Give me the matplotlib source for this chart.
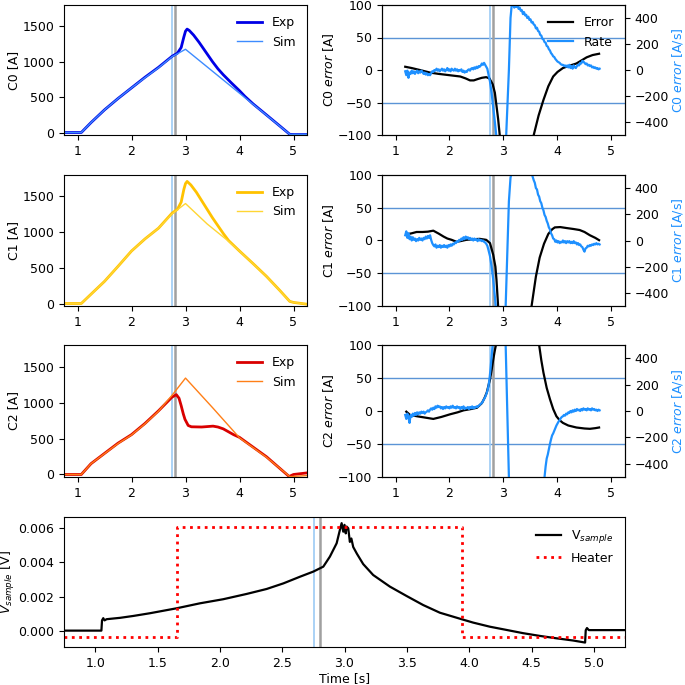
import numpy as np
import matplotlib
matplotlib.use("Agg")
import matplotlib.pyplot as plt

plt.rcParams["font.size"] = 9

# marker times (vertical lines)
t_quench = 2.755
t_detect = 2.80

# --- current traces (time [s], current [A]) ---
c0_exp_t = [0.75, 1.07, 1.25, 1.5, 1.75, 2.0, 2.25, 2.5, 2.75, 2.85, 2.92, 2.97, 3.0, 3.03, 3.07, 3.15, 3.25, 3.4, 3.5, 3.6, 3.7, 3.85, 4.0, 4.1, 4.25, 4.5, 4.75, 4.93, 5.0, 5.25]
c0_exp = [0, 0, 140, 320, 480, 630, 780, 920, 1075, 1120, 1200, 1350, 1430, 1460, 1440, 1375, 1275, 1110, 1000, 900, 815, 700, 590, 510, 405, 248, 90, -25, -28, -28]
c0_sim_t = [0.75, 1.07, 1.25, 1.5, 1.75, 2.0, 2.25, 2.5, 2.75, 3.0, 3.5, 4.0, 4.5, 4.93, 5.25]
c0_sim = [0, 0, 140, 320, 480, 630, 775, 915, 1070, 1175, 865, 555, 245, -25, -25]

c1_exp_t = [0.75, 1.07, 1.25, 1.5, 1.75, 2.0, 2.25, 2.5, 2.75, 2.85, 2.92, 2.97, 3.0, 3.03, 3.1, 3.2, 3.3, 3.4, 3.5, 3.6, 3.7, 3.8, 4.0, 4.25, 4.5, 4.75, 4.93, 5.0, 5.25]
c1_exp = [0, 0, 130, 310, 520, 735, 905, 1055, 1265, 1320, 1420, 1600, 1680, 1710, 1660, 1560, 1440, 1320, 1200, 1090, 980, 880, 735, 560, 380, 180, 30, 15, -10]
c1_sim_t = [0.75, 1.07, 1.25, 1.5, 1.75, 2.0, 2.25, 2.5, 2.75, 3.0, 3.4, 3.8, 4.0, 4.5, 4.93, 5.0, 5.25]
c1_sim = [0, 0, 130, 310, 520, 735, 905, 1055, 1255, 1400, 1115, 870, 735, 380, 30, 15, -10]

c2_exp_t = [0.75, 1.07, 1.25, 1.5, 1.75, 2.0, 2.25, 2.5, 2.75, 2.83, 2.88, 2.92, 2.96, 2.99, 3.05, 3.11, 3.3, 3.51, 3.6, 3.7, 3.89, 4.0, 4.5, 4.92, 5.0, 5.25]
c2_exp = [0, 0, 150, 293, 435, 554, 710, 885, 1075, 1110, 1060, 956, 840, 767, 681, 663, 660, 672, 660, 634, 554, 516, 246, -28, 0, 22]
c2_sim_t = [0.75, 1.07, 1.25, 1.5, 1.75, 2.0, 2.25, 2.5, 2.75, 3.0, 3.5, 4.0, 4.5, 4.93, 5.25]
c2_sim = [0, 0, 150, 290, 430, 550, 705, 880, 1100, 1340, 930, 510, 240, -30, -15]

# --- error [A] ---
c0_err_t = [1.18, 1.3, 1.45, 1.64, 1.8, 1.95, 2.1, 2.2, 2.3, 2.38, 2.45, 2.52, 2.6, 2.68, 2.74, 2.8, 2.84, 2.87, 2.9, 2.93, 2.96, 3.0, 3.3, 3.5, 3.56, 3.65, 3.74, 3.83, 3.92, 4.0, 4.1, 4.2, 4.35, 4.45, 4.54, 4.65, 4.77]
c0_err = [5, 3, 0, -4, -6, -7.5, -9, -10, -13, -16, -16, -14, -12, -11, -13, -22, -35, -55, -75, -100, -150, -250, -300, -160, -100, -70, -46, -25, -10, -3, 3, 6, 10, 15, 19.5, 23, 25]
c1_err_t = [1.24, 1.3, 1.39, 1.5, 1.6, 1.7, 1.8, 1.89, 1.96, 2.04, 2.13, 2.2, 2.31, 2.45, 2.56, 2.68, 2.75, 2.81, 2.85, 2.87, 2.9, 3.0, 3.3, 3.45, 3.52, 3.6, 3.67, 3.75, 3.83, 3.9, 3.95, 4.05, 4.17, 4.3, 4.41, 4.5, 4.6, 4.7, 4.77]
c1_err = [10, 11, 13, 13, 13.5, 15, 10.5, 6, 3, 1, -2, -1, 1, 2, 2.5, 1, -4, -22, -40, -60, -100, -300, -400, -180, -100, -55, -26, -5, 10, 17, 20, 20.5, 19, 17.5, 16, 13, 8, 4, 0.5]
c2_err_t = [1.2, 1.27, 1.4, 1.55, 1.7, 1.85, 2.01, 2.15, 2.26, 2.4, 2.51, 2.6, 2.65, 2.69, 2.72, 2.75, 2.78, 2.81, 2.84, 2.86, 2.9, 3.0, 3.3, 3.55, 3.66, 3.7, 3.74, 3.8, 3.86, 3.92, 3.98, 4.04, 4.1, 4.2, 4.35, 4.5, 4.6, 4.7, 4.77]
c2_err = [-1, -6, -8, -10, -12, -9, -5, -2, 1, 3, 5, 12, 20, 28, 38, 48, 62, 78, 92, 100, 150, 300, 350, 180, 100, 77, 58, 35, 18, 3, -8, -14, -18, -22, -25, -26.5, -27, -26, -25]

# --- error rate [A/s] ---
c0_rate_t = [1.18, 1.2, 1.22, 1.24, 1.26, 1.28, 1.3, 1.32, 1.34, 1.36, 1.38, 1.4, 1.42, 1.44, 1.46, 1.48, 1.5, 1.52, 1.54, 1.56, 1.58, 1.6, 1.62, 1.64, 1.66, 1.68, 1.7, 1.72, 1.74, 1.76, 1.78, 1.8, 1.82, 1.84, 1.86, 1.88, 1.9, 1.92, 1.94, 1.96, 1.98, 2.0, 2.02, 2.04, 2.06, 2.08, 2.1, 2.12, 2.14, 2.16, 2.18, 2.2, 2.22, 2.24, 2.26, 2.28, 2.3, 2.32, 2.34, 2.36, 2.38, 2.4, 2.42, 2.44, 2.46, 2.48, 2.5, 2.52, 2.54, 2.56, 2.58, 2.6, 2.62, 2.64, 2.66, 2.68, 2.7, 2.72, 2.75, 2.78, 2.81, 2.84, 2.87, 2.95, 3.0, 3.05, 3.1, 3.13, 3.15, 3.18, 3.2, 3.22, 3.24, 3.26, 3.28, 3.3, 3.32, 3.34, 3.36, 3.38, 3.4, 3.42, 3.44, 3.46, 3.48, 3.5, 3.52, 3.54, 3.56, 3.58, 3.6, 3.62, 3.64, 3.66, 3.68, 3.7, 3.72, 3.74, 3.76, 3.78, 3.8, 3.82, 3.84, 3.86, 3.88, 3.9, 3.92, 3.94, 3.96, 3.98, 4.0, 4.02, 4.04, 4.06, 4.08, 4.1, 4.12, 4.14, 4.16, 4.18, 4.2, 4.22, 4.24, 4.26, 4.28, 4.3, 4.32, 4.34, 4.36, 4.38, 4.4, 4.42, 4.44, 4.46, 4.48, 4.5, 4.52, 4.54, 4.56, 4.58, 4.6, 4.62, 4.64, 4.66, 4.68, 4.7, 4.72, 4.74, 4.76, 4.78]
c0_rate = [-10, -40, -5, -60, -20, -30, -5, -25, -10, -30, -15, -5, -25, -10, -20, -5, -15, -30, -20, -35, -25, -40, -30, -40, -25, -10, -15, 0, -5, 10, -5, 5, -10, 0, 10, -5, 5, -10, 0, 15, -5, 5, -10, 10, 0, -5, 10, -5, 5, -10, 0, -5, 5, -15, -5, -20, -10, -15, 0, 5, -5, 10, 15, 5, 20, 10, 25, 15, 30, 25, 35, 50, 40, 55, 40, 25, 10, -30, -90, -180, -290, -400, -520, -900, -700, -500, 0, 400, 490, 500, 480, 495, 485, 500, 470, 480, 455, 460, 430, 445, 420, 425, 400, 410, 385, 390, 365, 370, 350, 345, 320, 325, 300, 295, 270, 265, 240, 235, 215, 210, 185, 180, 160, 150, 130, 120, 105, 100, 85, 75, 65, 60, 55, 45, 40, 40, 30, 35, 25, 35, 20, 40, 15, 30, 10, 35, 20, 15, 30, 40, 35, 55, 50, 70, 65, 55, 45, 50, 35, 40, 30, 35, 20, 25, 15, 20, 10, 15, 5, 10]
c1_rate_t = [1.18, 1.2, 1.22, 1.24, 1.26, 1.28, 1.3, 1.32, 1.34, 1.36, 1.38, 1.4, 1.42, 1.44, 1.46, 1.48, 1.5, 1.52, 1.54, 1.56, 1.58, 1.6, 1.62, 1.64, 1.66, 1.68, 1.7, 1.72, 1.74, 1.76, 1.78, 1.8, 1.82, 1.84, 1.86, 1.88, 1.9, 1.92, 1.94, 1.96, 1.98, 2.0, 2.02, 2.04, 2.06, 2.08, 2.1, 2.12, 2.14, 2.16, 2.18, 2.2, 2.22, 2.24, 2.26, 2.28, 2.3, 2.32, 2.34, 2.36, 2.38, 2.4, 2.42, 2.44, 2.46, 2.48, 2.5, 2.52, 2.54, 2.56, 2.58, 2.6, 2.62, 2.64, 2.66, 2.68, 2.7, 2.72, 2.75, 2.78, 2.81, 2.84, 2.86, 2.95, 3.0, 3.04, 3.07, 3.1, 3.13, 3.2, 3.35, 3.5, 3.53, 3.56, 3.58, 3.6, 3.62, 3.64, 3.66, 3.68, 3.7, 3.72, 3.74, 3.76, 3.78, 3.8, 3.82, 3.84, 3.86, 3.88, 3.9, 3.92, 3.94, 3.96, 3.98, 4.0, 4.02, 4.04, 4.06, 4.08, 4.1, 4.12, 4.14, 4.16, 4.18, 4.2, 4.22, 4.24, 4.26, 4.28, 4.3, 4.32, 4.34, 4.36, 4.38, 4.4, 4.42, 4.44, 4.46, 4.48, 4.5, 4.52, 4.54, 4.56, 4.58, 4.6, 4.62, 4.64, 4.66, 4.68, 4.7, 4.72, 4.74, 4.76, 4.78]
c1_rate = [40, 70, 20, 55, 10, 30, 0, 25, 5, 15, -5, 10, 0, 20, 5, 15, 0, 20, 10, 30, 15, 35, 20, 40, 5, -20, -35, -45, -30, -55, -40, -50, -35, -55, -40, -50, -35, -50, -40, -55, -35, -45, -30, -40, -25, -30, -15, -20, -5, -10, 5, 0, 15, 5, 25, 10, 30, 15, 25, 10, 20, 5, 15, 0, 15, 5, 10, -5, 10, 0, 5, -5, 0, -10, -15, -25, -40, -70, -120, -200, -300, -430, -520, -900, -700, -500, -100, 300, 480, 600, 650, 580, 500, 460, 440, 400, 390, 350, 335, 300, 285, 250, 230, 195, 180, 150, 130, 100, 85, 55, 40, 15, 10, -10, 0, -15, -5, -20, -10, -15, 0, -15, -5, -20, -5, -15, -5, -20, -10, -20, -5, -20, -15, -30, -20, -35, -30, -45, -50, -70, -85, -60, -55, -40, -45, -35, -40, -30, -35, -25, -30, -20, -30, -25, -30]
c2_rate_t = [1.18, 1.2, 1.22, 1.24, 1.26, 1.28, 1.3, 1.32, 1.34, 1.36, 1.38, 1.4, 1.42, 1.44, 1.46, 1.48, 1.5, 1.52, 1.54, 1.56, 1.58, 1.6, 1.62, 1.64, 1.66, 1.68, 1.7, 1.72, 1.74, 1.76, 1.78, 1.8, 1.82, 1.84, 1.86, 1.88, 1.9, 1.92, 1.94, 1.96, 1.98, 2.0, 2.02, 2.04, 2.06, 2.08, 2.1, 2.12, 2.14, 2.16, 2.18, 2.2, 2.22, 2.24, 2.26, 2.28, 2.3, 2.32, 2.34, 2.36, 2.38, 2.4, 2.42, 2.44, 2.46, 2.48, 2.5, 2.52, 2.54, 2.56, 2.58, 2.6, 2.62, 2.64, 2.66, 2.68, 2.7, 2.72, 2.74, 2.76, 2.78, 2.8, 2.9, 3.0, 3.04, 3.07, 3.1, 3.2, 3.6, 3.76, 3.78, 3.8, 3.82, 3.84, 3.86, 3.88, 3.9, 3.92, 3.94, 3.96, 3.98, 4.0, 4.02, 4.04, 4.06, 4.08, 4.1, 4.12, 4.14, 4.16, 4.18, 4.2, 4.22, 4.24, 4.26, 4.28, 4.3, 4.32, 4.34, 4.36, 4.38, 4.4, 4.42, 4.44, 4.46, 4.48, 4.5, 4.52, 4.54, 4.56, 4.58, 4.6, 4.62, 4.64, 4.66, 4.68, 4.7, 4.72, 4.74, 4.76, 4.78]
c2_rate = [-30, -60, -20, -50, -90, -30, -45, -20, -35, -15, -30, -10, -25, -10, -20, -5, -15, -5, -20, -10, -5, 5, -5, 10, 20, 10, 25, 15, 35, 25, 40, 30, 35, 20, 30, 15, 30, 20, 35, 25, 30, 20, 35, 25, 40, 25, 30, 20, 35, 25, 30, 15, 30, 20, 35, 15, 25, 20, 30, 15, 30, 20, 35, 20, 30, 25, 35, 30, 40, 45, 55, 60, 75, 90, 105, 125, 150, 185, 240, 320, 420, 510, 900, 700, 500, 0, -500, -900, -900, -500, -420, -360, -330, -290, -250, -215, -185, -170, -150, -130, -110, -95, -80, -70, -55, -45, -40, -30, -35, -20, -25, -10, -15, 0, -10, 5, -5, 10, 0, 15, 5, 10, 0, 15, 5, 20, 10, 15, 5, 20, 10, 15, 5, 20, 10, 15, 5, 10, 0, 10, 5]

# --- sample voltage and heater ---
v_t = [0.75, 1.05, 1.055, 1.065, 1.075, 1.092, 1.2, 1.306, 1.44, 1.654, 1.84, 2.027, 2.215, 2.375, 2.51, 2.643, 2.75, 2.83, 2.883, 2.937, 2.963, 2.977, 2.99, 3.0, 3.01, 3.017, 3.03, 3.043, 3.055, 3.07, 3.1, 3.15, 3.23, 3.364, 3.498, 3.631, 3.765, 3.939, 4.032, 4.166, 4.30, 4.433, 4.567, 4.70, 4.834, 4.93, 4.935, 4.945, 4.96, 5.25]
v_sample = [0.0, 0.0, 0.0006, 0.00073, 0.0006, 0.00067, 0.00075, 0.00086, 0.00102, 0.00131, 0.0016, 0.00184, 0.00215, 0.00244, 0.00277, 0.00316, 0.00346, 0.00375, 0.00434, 0.00512, 0.0059, 0.0063, 0.0058, 0.0062, 0.0057, 0.0061, 0.0060, 0.0052, 0.0054, 0.0049, 0.0045, 0.0039, 0.00326, 0.00258, 0.00203, 0.0015, 0.00105, 0.00067, 0.00047, 0.00023, 0.00004, -0.00015, -0.00031, -0.00045, -0.00058, -0.0007, 0.00002, 0.00015, 0.00003, 0.00003]
heater_t = [0.75, 1.66, 3.94, 5.25]
heater_v = [-0.0004, 0.0061, -0.0004, -0.0004]

names = ["C0", "C1", "C2"]
exp_t = [c0_exp_t, c1_exp_t, c2_exp_t]
exp_i = [c0_exp, c1_exp, c2_exp]
sim_t = [c0_sim_t, c1_sim_t, c2_sim_t]
sim_i = [c0_sim, c1_sim, c2_sim]
err_t = [c0_err_t, c1_err_t, c2_err_t]
err = [c0_err, c1_err, c2_err]
rate_t = [c0_rate_t, c1_rate_t, c2_rate_t]
rate = [c0_rate, c1_rate, c2_rate]
exp_col = ["#0000e6", "#ffc200", "#d90000"]
sim_col = ["#3d8bff", "#ffd633", "#ff7f17"]

rate_col = "#1e90ff"
hline_col = "#5b94d6"
vq_col = "#9ccbf5"
vd_col = "#a0a0a0"

fig = plt.figure(figsize=(6.85, 6.85), dpi=100)

W = 685.0
def box(x0, y0, x1, y1):
    return [x0 / W, 1 - y1 / W, (x1 - x0) / W, (y1 - y0) / W]

rows = [(5, 135), (175, 306), (345, 477)]

for k in range(3):
    y0, y1 = rows[k]
    # current panel
    ax = fig.add_axes(box(64, y0, 307, y1))
    ax.axvline(t_quench, color=vq_col, lw=1.2)
    ax.axvline(t_detect, color=vd_col, lw=1.8)
    ax.plot(exp_t[k], exp_i[k], color=exp_col[k], lw=2, label="Exp")
    ax.plot(sim_t[k], sim_i[k], color=sim_col[k], lw=1, label="Sim")
    ax.set_xlim(0.75, 5.25)
    ax.set_ylim(-35, 1800)
    ax.set_xticks([1, 2, 3, 4, 5])
    ax.set_yticks([0, 500, 1000, 1500])
    ax.set_ylabel(names[k] + " [A]", labelpad=2)
    ax.legend(loc="upper right", frameon=False)

    # error panel
    ax2 = fig.add_axes(box(382, y0, 625, y1))
    ax2.axhline(50, color=hline_col, lw=1)
    ax2.axhline(-50, color=hline_col, lw=1)
    ax2.axvline(t_quench, color=vq_col, lw=1.2)
    ax2.axvline(t_detect, color=vd_col, lw=1.8)
    l_err, = ax2.plot(err_t[k], err[k], color="black", lw=1.6, label="Error")
    ax2.set_xlim(0.75, 5.25)
    ax2.set_ylim(-100, 100)
    ax2.set_xticks([1, 2, 3, 4, 5])
    ax2.set_yticks([-100, -50, 0, 50, 100])
    ax2.set_ylabel(names[k] + " $error$ [A]", labelpad=1)

    ax3 = ax2.twinx()
    l_rate, = ax3.plot(rate_t[k], rate[k], color=rate_col, lw=1.6, label="Rate")
    ax3.set_ylim(-500, 500)
    ax3.set_yticks([-400, -200, 0, 200, 400])
    ax3.set_ylabel(names[k] + " $error$ [A/s]", color=rate_col, labelpad=1)
    if k == 0:
        ax3.legend([l_err, l_rate], ["Error", "Rate"], loc="upper right", frameon=False)

# bottom panel
axb = fig.add_axes(box(64, 517, 625, 647))
axb.axvline(t_quench, color=vq_col, lw=1.2)
axb.axvline(t_detect, color=vd_col, lw=1.8)
axb.plot(v_t, v_sample, color="black", lw=1.6, label="V$_{sample}$")
axb.plot(heater_t, heater_v, color="red", lw=2, ls=":", drawstyle="steps-post", label="Heater")
axb.set_xlim(0.75, 5.25)
axb.set_ylim(-0.00096, 0.00666)
axb.set_xticks(np.arange(1.0, 5.01, 0.5))
axb.set_yticks([0.0, 0.002, 0.004, 0.006])
axb.set_ylabel("$V_{sample}$ [V]", labelpad=1)
axb.set_xlabel("Time [s]", labelpad=2)
axb.legend(loc="upper right", frameon=False)

fig.savefig("out.png", dpi=100)
